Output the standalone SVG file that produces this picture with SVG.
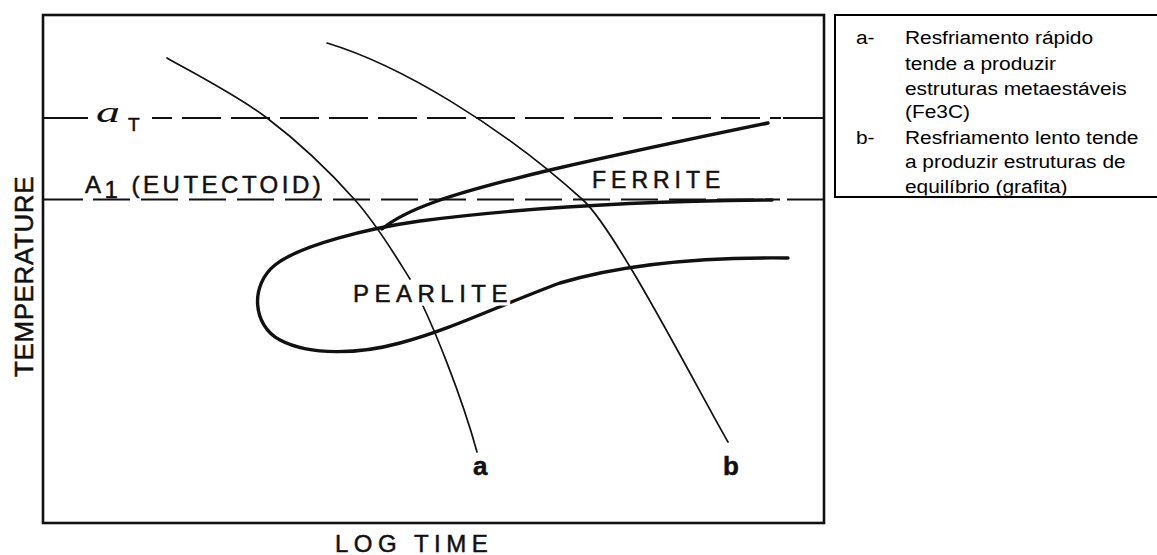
<svg xmlns="http://www.w3.org/2000/svg" width="1157" height="555" viewBox="0 0 1157 555">
<style>
.frame{fill:none;stroke:#111;stroke-width:2.6}
.dash{fill:none;stroke:#111;stroke-width:1.8}
.thin{fill:none;stroke:#111;stroke-width:1.7;stroke-linecap:round}
.thick{fill:none;stroke:#111;stroke-width:3.4;stroke-linecap:round;stroke-linejoin:round}
.lbl{font-family:"Liberation Sans",Arial,sans-serif;fill:#111;stroke:#111;stroke-width:0.5}
.halo{font-family:"Liberation Sans",Arial,sans-serif;fill:#fff;stroke:#fff;stroke-width:7}
.leg{font-family:"Liberation Sans",Arial,sans-serif;font-size:19px;fill:#000}
</style>
<defs>
<clipPath id="legClip"><rect x="830" y="0" width="330" height="195.5"/></clipPath>
</defs>
<rect width="1157" height="555" fill="#fff"/>

<g id="frame">
<rect class="frame" x="43" y="15" width="781" height="508"/>
</g>

<g id="reference-lines">
<line class="dash" x1="43" y1="118" x2="88" y2="118"/>
<line class="dash" x1="152" y1="118" x2="781" y2="118" stroke-dasharray="39 10" stroke-dashoffset="19"/>
<line class="dash" x1="783" y1="118" x2="824" y2="118"/>
<line class="dash" x1="43" y1="199.5" x2="83" y2="199.5"/>
<line class="dash" x1="93" y1="199.5" x2="780" y2="199.5" stroke-dasharray="37 11"/>
<line class="dash" x1="787" y1="199.5" x2="824" y2="199.5"/>
</g>

<g id="connectors">
<g id="curve-a">
<path class="thin" d="M167,58 C183.7,68 235.7,94.3 267,118 C298.3,141.7 331.2,173.2 355,200 C378.8,226.8 398.7,261.3 410,279"/>
<path class="thin" d="M423,306 C432,325 460,390 477,452"/>
</g>
<g id="curve-b">
<path class="thin" d="M327,43 C400,65 500,125 583,200 C616,230 698,390 728,442"/>
</g>
<g id="pearlite-curve">
<path class="thick" d="M772,200 C650,201 520,208 420,221 C370,228 300,245 275,265 C250,285 252,325 280,340 C310,356 360,354 400,343 C450,330 500,305 560,283 C620,265 700,257 788,258"/>
</g>
<g id="ferrite-curve">
<path class="thick" d="M382,229 C405,210 445,195 550,170 C620,154 700,137 768,123"/>
</g>
</g>

<g id="labels">
<text transform="translate(96,122) scale(1.6,1)" font-family="Liberation Serif,serif" font-style="italic" font-size="30" fill="#111">a</text>
<text x="128" y="131" class="lbl" font-size="19">T</text>
<text x="85" y="193" class="lbl" font-size="24" letter-spacing="3.5">A<tspan dy="5">1</tspan><tspan dy="-5"> (EUTECTOID)</tspan></text>
<text x="592" y="188" class="lbl" font-size="23" letter-spacing="5">FERRITE</text>
<text x="353" y="302" class="halo" font-size="24" letter-spacing="5.5">PEARLITE</text>
<text x="353" y="302" class="lbl" font-size="24" letter-spacing="5.5">PEARLITE</text>
<text x="473" y="475" class="lbl" font-size="26" font-weight="bold" stroke-width="0">a</text>
<text x="723" y="475" class="lbl" font-size="26" font-weight="bold" stroke-width="0">b</text>
<text transform="translate(33,377) rotate(-90)" class="lbl" font-size="26" letter-spacing="0.6">TEMPERATURE</text>
<text x="335" y="552" class="lbl" font-size="24" letter-spacing="5.5">LOG TIME</text>
</g>

<g id="legend">
<rect x="835" y="15" width="330" height="182" fill="none" stroke="#000" stroke-width="2"/>
<g clip-path="url(#legClip)">
<g transform="translate(856,0) scale(1.1,1)" class="leg">
<text x="0" y="44">a-</text>
<text x="44.5" y="44">Resfriamento rápido</text>
<text x="44.5" y="70">tende a produzir</text>
<text x="44.5" y="95.5">estruturas metaestáveis</text>
<text x="44.5" y="118">(Fe3C)</text>
<text x="0" y="144">b-</text>
<text x="44.5" y="144">Resfriamento lento tende</text>
<text x="44.5" y="168.5">a produzir estruturas de</text>
<text x="44.5" y="193">equilíbrio (grafita)</text>
</g>
</g>
</g>
</svg>
